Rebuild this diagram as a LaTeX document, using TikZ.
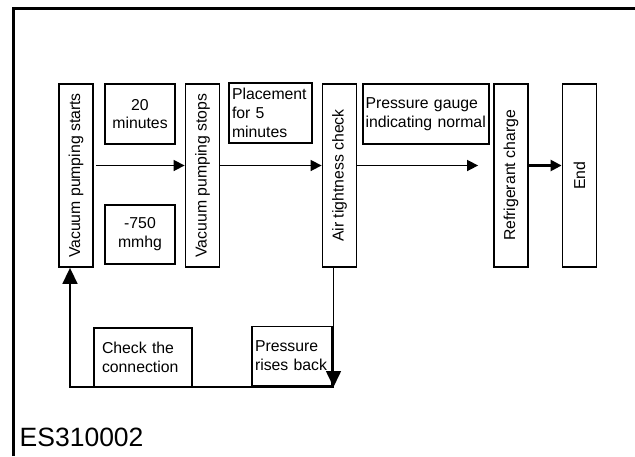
\documentclass[tikz,border=0pt]{standalone}
\usepackage{fontspec}
\setmainfont{Liberation Sans}
\usepackage{tikz}
\usetikzlibrary{arrows.meta,positioning}

\begin{document}
\begin{tikzpicture}[x=1pt,y=-1pt,>=Latex,
  font=\fontsize{15.8}{18.8}\selectfont,
  stage/.style={draw,line width=1.8pt,minimum width=34pt,minimum height=183pt,inner sep=0pt},
  note/.style={draw,line width=1.8pt,align=left,inner ysep=0pt},
  flow/.style={line width=1.6pt,-{Triangle[length=11pt,width=11pt]}},
  back/.style={line width=1.6pt,-{Triangle[length=16pt,width=15pt]}}]
\useasboundingbox (0,0) rectangle (635,456);
% frame
\draw[line width=3pt] (13.5,456) -- (13.5,8.5) -- (635,8.5);
% main stages
\node[stage] (vps) at (76,175.5) {\rotatebox{90}{Vacuum pumping starts}};
\node[stage] (stops) at (202.5,175.5) {\rotatebox{90}{Vacuum pumping stops}};
\node[stage] (air) at (339.5,175.5) {\rotatebox{90}{Air tightness check}};
\node[stage] (ref) at (511,175.5) {\rotatebox{90}{Refrigerant charge}};
\node[stage] (fin) at (579.5,175.5) {\rotatebox{90}{End}};
% conditions
\node[note,align=center,minimum width=70pt,minimum height=60pt] (time) at (140,114) {20\\minutes};
\node[note,align=center,minimum width=70pt,minimum height=59pt] (vac) at (140,234.5) {-750\\mmhg};
\node[note,text width=77pt,inner xsep=3pt,minimum height=60pt] (rest) at (270.5,113) {Placement\\for 5\\minutes};
\node[note,text width=121pt,inner xsep=2.5pt,minimum height=60pt] (gauge) at (426,114) {Pressure gauge\\indicating normal};
\node[note,text width=82pt,inner xsep=8pt,minimum height=59pt] (check) at (143,357.5) {Check the\\connection};
\node[note,text width=74pt,inner xsep=3pt,minimum height=59pt] (rises) at (292,356) {Pressure\\rises back};
\node[anchor=base west,inner sep=0pt,font=\fontsize{26.5}{31}\selectfont] (code) at (19.5,446.5) {ES310002};
% connectors
\draw[flow,shorten <=2pt] ([yshift=10pt]vps.east) -- ([yshift=10pt]stops.west);
\draw[flow] ([yshift=10pt]stops.east) -- ([yshift=10pt]air.west);
\draw[flow,shorten >=15pt] ([yshift=10pt]air.east) -- ([yshift=10pt]ref.west);
\draw[flow,line width=2.4pt] ([yshift=10pt]ref.east) -- ([yshift=10pt]fin.west);
\coordinate (down) at (333.5,387);
\coordinate (up) at (70,387);
\draw[back] (down |- air.south) -- (down);
\draw[back] (down) -- (up) -- (up |- vps.south);
\end{tikzpicture}
\end{document}
